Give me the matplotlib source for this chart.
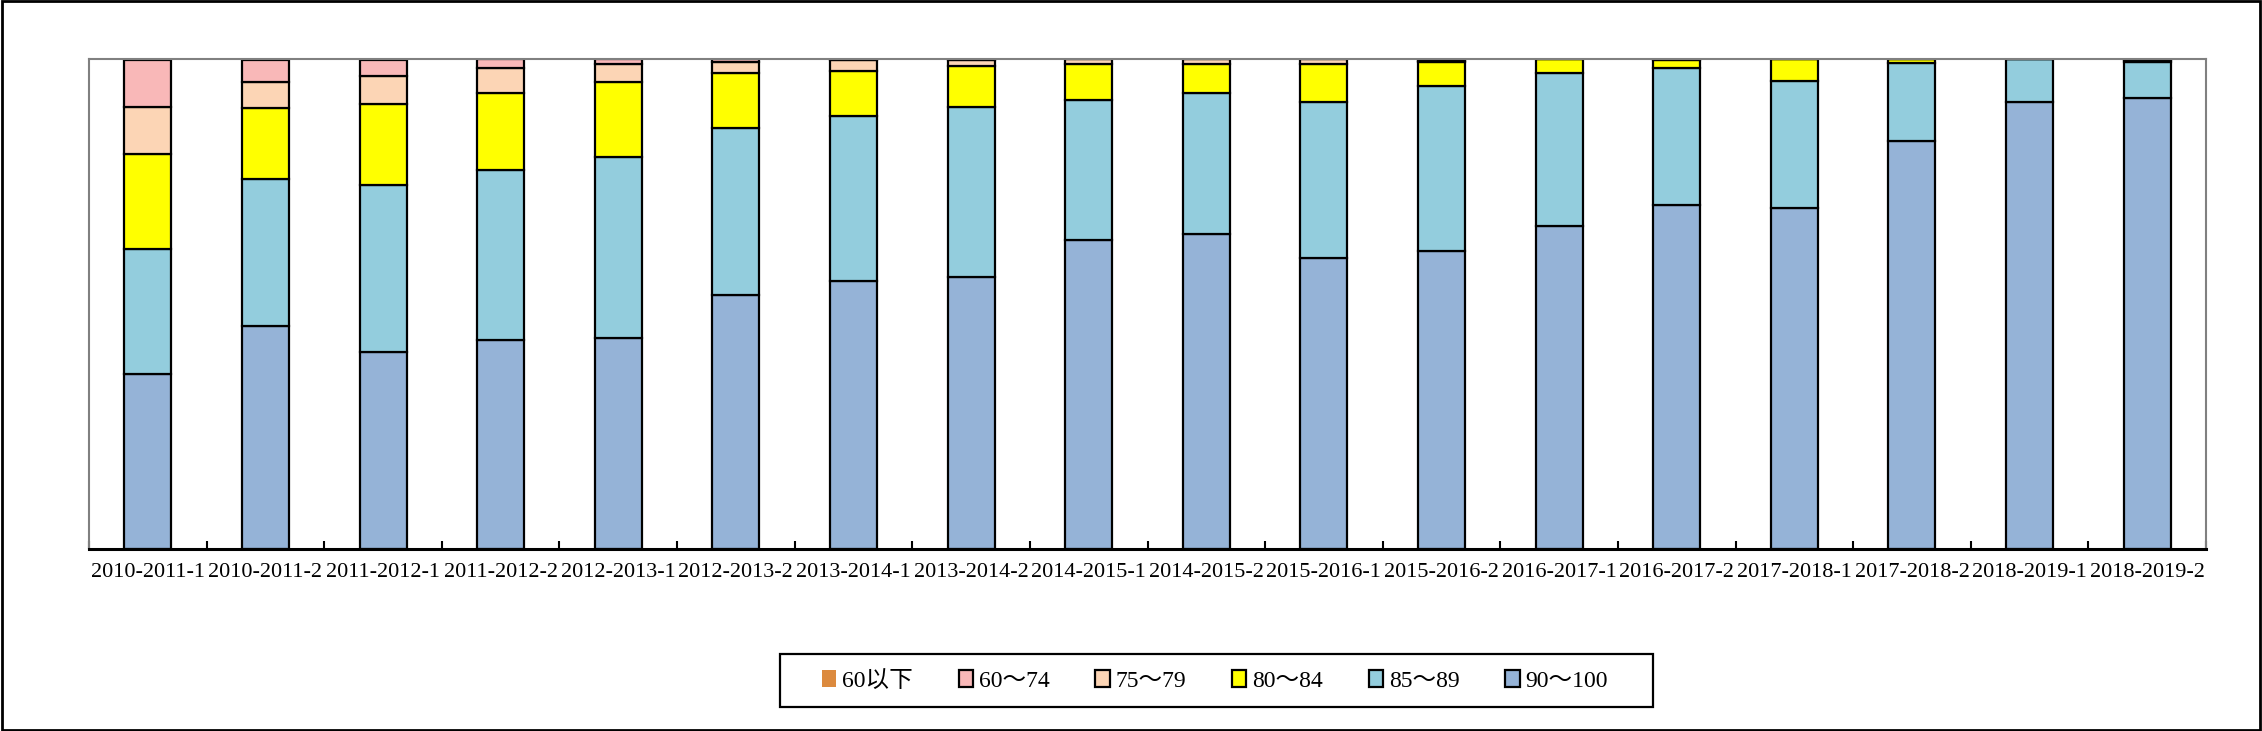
import matplotlib.pyplot as plt
import matplotlib.patches as mpatches
import numpy as np

# semesters
terms = ["2010-2011-1", "2010-2011-2", "2011-2012-1", "2011-2012-2", "2012-2013-1",
         "2012-2013-2", "2013-2014-1", "2013-2014-2", "2014-2015-1", "2014-2015-2",
         "2015-2016-1", "2015-2016-2", "2016-2017-1", "2016-2017-2", "2017-2018-1",
         "2017-2018-2", "2018-2019-1", "2018-2019-2"]

# share of students per score band (%)
s90_100 = [35.7, 45.5, 40.2, 42.6, 43.0, 51.9, 54.6, 55.6, 63.0, 64.2,
           59.4, 60.9, 66.0, 70.3, 69.5, 83.3, 91.2, 92.0]
s85_89 = [25.6, 30.1, 34.1, 34.8, 37.1, 34.0, 33.7, 34.6, 28.6, 28.8,
          31.9, 33.6, 31.2, 27.8, 26.0, 15.9, 8.8, 7.3]
s80_84 = [19.3, 14.5, 16.6, 15.7, 15.3, 11.3, 9.3, 8.3, 7.3, 5.9,
          7.6, 4.8, 2.8, 1.6, 4.5, 0.8, 0.0, 0.5]
s75_79 = [9.7, 5.3, 5.7, 5.1, 3.6, 2.1, 2.1, 1.2, 1.0, 1.0,
          1.0, 0.3, 0.0, 0.3, 0.0, 0.0, 0.0, 0.2]
s60_74 = [9.4, 4.4, 3.1, 1.8, 0.9, 0.6, 0.3, 0.3, 0.1, 0.1,
          0.1, 0.3, 0.0, 0.0, 0.0, 0.0, 0.0, 0.0]
s_below60 = [0.3, 0.2, 0.3, 0.0, 0.1, 0.1, 0.0, 0.0, 0.0, 0.0,
             0.0, 0.1, 0.0, 0.0, 0.0, 0.0, 0.0, 0.0]

bands = ["90～100", "85～89", "80～84", "75～79", "60～74", "60以下"]
series = [s90_100, s85_89, s80_84, s75_79, s60_74, s_below60]
colors = ["#95B3D7", "#93CDDD", "#FFFF00", "#FCD5B5", "#F9B8B8", "#DC8A3E"]

FONT = ['Liberation Serif', 'Noto Sans CJK SC']
plt.rcParams['font.family'] = FONT

fig = plt.figure(figsize=(22.62, 7.31), dpi=100)
ax = fig.add_axes([89 / 2262, 1 - 549 / 731, (2206 - 89) / 2262, (549 - 59) / 731])

x = np.arange(len(terms))
bottom = np.zeros(len(terms))
handles = []
for name, vals, col in zip(bands, series, colors):
    vals = np.array(vals)
    if name == "60以下":
        ax.bar(x, vals, 0.4, bottom=bottom, color=col, linewidth=0)
        handles.append(mpatches.Patch(facecolor=col, edgecolor='none', label=name))
    else:
        ax.bar(x, vals, 0.4, bottom=bottom, color=col, edgecolor='black', linewidth=1.6)
        handles.append(mpatches.Patch(facecolor=col, edgecolor='black', linewidth=1.6, label=name))
    bottom += vals

ax.set_xlim(-0.5, len(terms) - 0.5)
ax.set_ylim(0, 100)
ax.set_yticks([])
ax.set_xticks(x)
ax.set_xticklabels(terms, fontsize=16)
ax.tick_params(axis='x', which='major', length=0, pad=10)
ax.set_xticks(np.arange(len(terms) + 1) - 0.5, minor=True)
ax.tick_params(axis='x', which='minor', direction='in', length=6, width=1.5)

for side in ['left', 'top', 'right']:
    ax.spines[side].set_color('#808080')
    ax.spines[side].set_linewidth(1.5)
ax.spines['bottom'].set_linewidth(2.2)

# legend entries spread over the box, frame drawn separately
leg = fig.legend(handles[::-1], [h.get_label() for h in handles[::-1]],
                 loc='center left', mode='expand', ncol=6, frameon=False,
                 bbox_to_anchor=(822 / 2262, 1 - 707 / 731, (1608 - 822) / 2262, 52 / 731),
                 borderaxespad=0, borderpad=0, fontsize=17,
                 handlelength=0.6, handleheight=0.7, handletextpad=0.25)
fig.patches.append(mpatches.Rectangle((780 / 2262, 1 - 707 / 731), 873 / 2262, 53 / 731,
                                      transform=fig.transFigure, fill=False,
                                      edgecolor='black', linewidth=1.6))

# outer frame of the figure
fig.patches.append(mpatches.Rectangle((0.0008, 0.0015), 0.9984, 0.997, transform=fig.transFigure,
                                      fill=False, edgecolor='black', linewidth=2))

plt.savefig("out.png", dpi=100)
plt.close()
